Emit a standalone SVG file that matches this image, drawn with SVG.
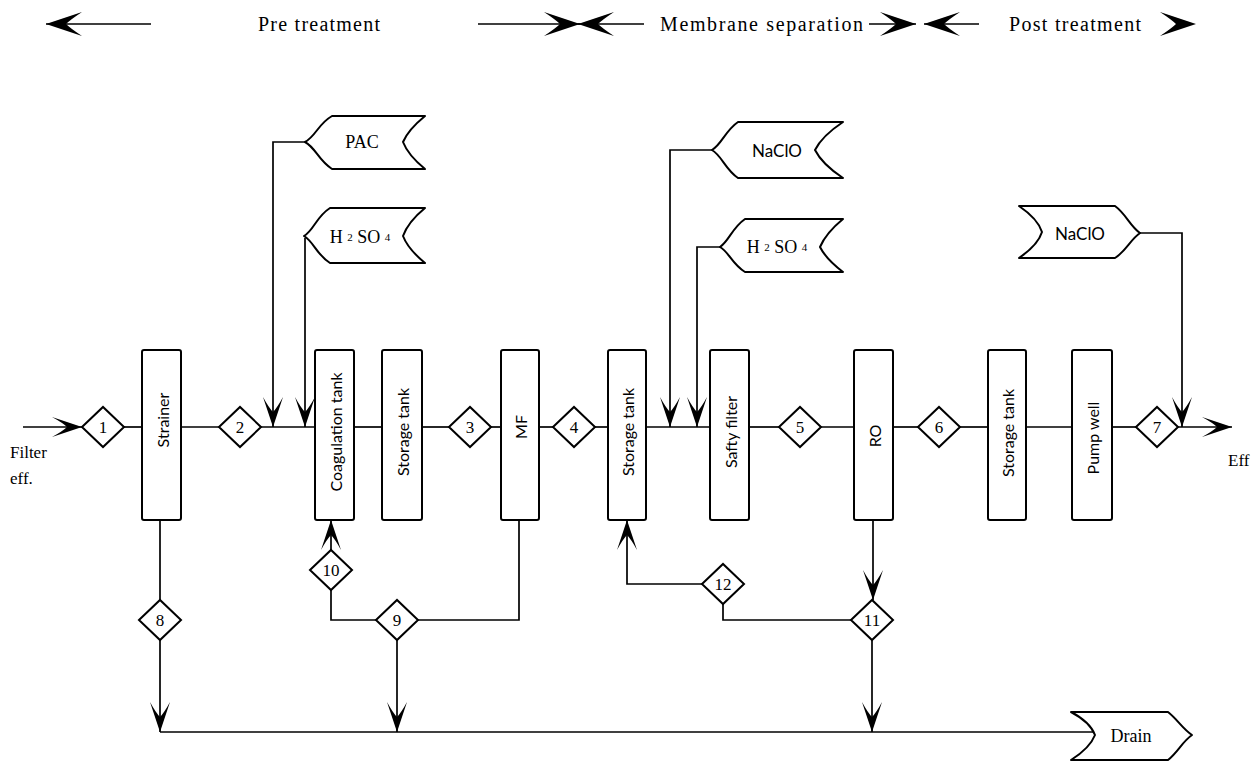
<svg xmlns="http://www.w3.org/2000/svg" width="1256" height="762" viewBox="0 0 1256 762">
<style>
.ln{stroke:#000;stroke-width:1.7;fill:none}
.box{fill:#fff;stroke:#000;stroke-width:2}
.dia{fill:#fff;stroke:#000;stroke-width:2}
.flag{fill:#fff;stroke:#000;stroke-width:2;stroke-linejoin:round}
.hd{font-family:"Liberation Serif",serif;font-size:20px;fill:#000}
.bl{font-family:Lato,"DejaVu Sans",sans-serif;font-size:16px;fill:#000;text-anchor:middle;dominant-baseline:central}
.num{font-family:"Liberation Serif",serif;font-size:17px;fill:#000;text-anchor:middle;dominant-baseline:central}
.chem{font-family:"Liberation Serif",serif;font-size:18px;fill:#000;text-anchor:middle;dominant-baseline:central}
.sans{font-family:Lato,"DejaVu Sans",sans-serif;font-size:17px;fill:#000;text-anchor:middle;dominant-baseline:central}
.lab{font-family:"Liberation Serif",serif;font-size:17px;fill:#000}
.sub{font-size:11px}
</style>
<defs>
<marker id="a" viewBox="-32 -11 33 22" refX="0" refY="0" markerWidth="33" markerHeight="22" markerUnits="userSpaceOnUse" orient="auto">
<path d="M0,0 L-30,-10 Q-19,-4 -15,0 Q-19,4 -30,10 Z" fill="#000"/>
</marker>
<marker id="b" viewBox="-38 -13 39 26" refX="0" refY="0" markerWidth="39" markerHeight="26" markerUnits="userSpaceOnUse" orient="auto">
<path d="M0,0 L-36,-12 Q-24,-4 -20,0 Q-24,4 -36,12 Z" fill="#000"/>
</marker>
<path id="dm" d="M-21,0 L0,-20 L21,0 L0,20 Z"/>
</defs>

<g id="header">
<path class="ln" d="M151,24 H46" marker-end="url(#b)"/>
<text class="hd" x="258" y="31" textLength="122" lengthAdjust="spacing">Pre treatment</text>
<path class="ln" d="M478,24 H580" marker-end="url(#b)"/>
<path class="ln" d="M644,24 H578" marker-end="url(#b)"/>
<text class="hd" x="660" y="31" textLength="203" lengthAdjust="spacing">Membrane separation</text>
<path class="ln" d="M869,24 H916" marker-end="url(#b)"/>
<path class="ln" d="M979,24 H924" marker-end="url(#b)"/>
<text class="hd" x="1009" y="31" textLength="132" lengthAdjust="spacing">Post treatment</text>
<path d="M1196,24 L1160,12 Q1172,20 1176,24 Q1172,28 1160,36 Z" fill="#000"/>
</g>

<g id="connectors">
<path class="ln" d="M23,427 H82" marker-end="url(#a)"/>
<path class="ln" d="M124,427 H142"/>
<path class="ln" d="M181,427 H219"/>
<path class="ln" d="M261,427 H315"/>
<path class="ln" d="M305,142 H273 V427" marker-end="url(#a)"/>
<path class="ln" d="M305,238 V427" marker-end="url(#a)"/>
<path class="ln" d="M354,427 H382"/>
<path class="ln" d="M422,427 H449"/>
<path class="ln" d="M491,427 H501"/>
<path class="ln" d="M539,427 H553"/>
<path class="ln" d="M595,427 H608"/>
<path class="ln" d="M646,427 H710"/>
<path class="ln" d="M712,150 H670 V427" marker-end="url(#a)"/>
<path class="ln" d="M720,247 H697 V427" marker-end="url(#a)"/>
<path class="ln" d="M749,427 H779"/>
<path class="ln" d="M821,427 H854"/>
<path class="ln" d="M893,427 H918"/>
<path class="ln" d="M960,427 H988"/>
<path class="ln" d="M1026,427 H1072"/>
<path class="ln" d="M1112,427 H1136"/>
<path class="ln" d="M1178,427 H1232" marker-end="url(#a)"/>
<path class="ln" d="M1140,233 H1182 V427" marker-end="url(#a)"/>
<path class="ln" d="M160,520 V600"/>
<path class="ln" d="M160,640 V732" marker-end="url(#a)"/>
<path class="ln" d="M331,550 V520" marker-end="url(#a)"/>
<path class="ln" d="M331,590 V620 H376"/>
<path class="ln" d="M418,620 H519 V520"/>
<path class="ln" d="M397,640 V732" marker-end="url(#a)"/>
<path class="ln" d="M873,520 V600" marker-end="url(#a)"/>
<path class="ln" d="M851,620 H723 V604"/>
<path class="ln" d="M702,584 H627 V520" marker-end="url(#a)"/>
<path class="ln" d="M872,640 V732" marker-end="url(#a)"/>
<path class="ln" d="M160,732 H1095"/>
</g>

<g id="n1"><use href="#dm" class="dia" x="103" y="427"/><text class="num" x="103" y="427">1</text></g>
<g id="strainer"><rect class="box" x="142" y="350" width="39" height="170" rx="2"/><text class="bl" transform="translate(162,420) rotate(-90)">Strainer</text></g>
<g id="n2"><use href="#dm" class="dia" x="240" y="427"/><text class="num" x="240" y="427">2</text></g>
<g id="coag"><rect class="box" x="315" y="350" width="39" height="170" rx="2"/><text class="bl" transform="translate(335,432) rotate(-90)">Coagulation tank</text></g>
<g id="st1"><rect class="box" x="382" y="350" width="40" height="170" rx="2"/><text class="bl" transform="translate(402,432) rotate(-90)">Storage tank</text></g>
<g id="n3"><use href="#dm" class="dia" x="470" y="427"/><text class="num" x="470" y="427">3</text></g>
<g id="mf"><rect class="box" x="501" y="350" width="38" height="170" rx="2"/><text class="bl" transform="translate(520,427) rotate(-90)">MF</text></g>
<g id="n4"><use href="#dm" class="dia" x="574" y="427"/><text class="num" x="574" y="427">4</text></g>
<g id="st2"><rect class="box" x="608" y="350" width="38" height="170" rx="2"/><text class="bl" transform="translate(627,432) rotate(-90)">Storage tank</text></g>
<g id="safty"><rect class="box" x="710" y="350" width="39" height="170" rx="2"/><text class="bl" transform="translate(730,432) rotate(-90)">Safty filter</text></g>
<g id="n5"><use href="#dm" class="dia" x="800" y="427"/><text class="num" x="800" y="427">5</text></g>
<g id="ro"><rect class="box" x="854" y="350" width="39" height="170" rx="2"/><text class="bl" transform="translate(874,436) rotate(-90)">RO</text></g>
<g id="n6"><use href="#dm" class="dia" x="939" y="427"/><text class="num" x="939" y="427">6</text></g>
<g id="st3"><rect class="box" x="988" y="350" width="38" height="170" rx="2"/><text class="bl" transform="translate(1007,433) rotate(-90)">Storage tank</text></g>
<g id="pump"><rect class="box" x="1072" y="350" width="40" height="170" rx="2"/><text class="bl" transform="translate(1092,438) rotate(-90)">Pump well</text></g>
<g id="n7"><use href="#dm" class="dia" x="1157" y="427"/><text class="num" x="1157" y="427">7</text></g>
<g id="n8"><use href="#dm" class="dia" x="160" y="620"/><text class="num" x="160" y="620">8</text></g>
<g id="n9"><use href="#dm" class="dia" x="397" y="620"/><text class="num" x="397" y="620">9</text></g>
<g id="n10"><use href="#dm" class="dia" x="331" y="570"/><text class="num" x="331" y="570">10</text></g>
<g id="n11"><use href="#dm" class="dia" x="872" y="620"/><text class="num" x="872" y="620">11</text></g>
<g id="n12"><use href="#dm" class="dia" x="723" y="584"/><text class="num" x="723" y="584">12</text></g>

<g id="pac"><path class="flag" d="M332,116 H425 Q408,130 403,142 Q408,155 425,169 H332 C318,160 316,148 305,142 C316,136 318,124 332,116 Z"/><text class="chem" x="362" y="142">PAC</text></g>
<g id="h2so4a"><path class="flag" d="M330,208 H425 Q408,222 403,236 Q408,249 425,263 H330 C316,254 314,242 304,236 C314,230 316,217 330,208 Z"/><text class="chem" x="360" y="237">H <tspan class="sub">2</tspan> SO <tspan class="sub">4</tspan></text></g>
<g id="naclo1"><path class="flag" d="M738,122 H843 Q822,136 815,150 Q822,164 843,178 H738 C725,169 722,156 712,150 C722,144 725,131 738,122 Z"/><text class="sans" x="777" y="150">NaClO</text></g>
<g id="h2so4b"><path class="flag" d="M745,219 H843 Q826,233 820,247 Q826,259 843,272 H745 C732,264 729,252 720,247 C729,241 732,228 745,219 Z"/><text class="chem" x="777" y="247">H <tspan class="sub">2</tspan> SO <tspan class="sub">4</tspan></text></g>
<g id="naclo2"><path class="flag" d="M1019,206 H1115 C1126,214 1130,226 1140,233 C1130,240 1126,251 1115,258 H1019 Q1038,245 1042,232 Q1038,219 1019,206 Z"/><text class="sans" x="1080" y="233">NaClO</text></g>
<g id="drain"><path class="flag" d="M1071,712 H1168 C1178,720 1182,728 1192,735 C1182,742 1178,752 1168,760 H1071 Q1090,748 1095,735 Q1090,722 1071,712 Z"/><text class="chem" x="1131" y="736">Drain</text></g>

<g id="labels">
<text class="lab" x="10" y="458">Filter</text>
<text class="lab" x="10" y="484">eff.</text>
<text class="lab" x="1228" y="466">Eff</text>
</g>
</svg>
